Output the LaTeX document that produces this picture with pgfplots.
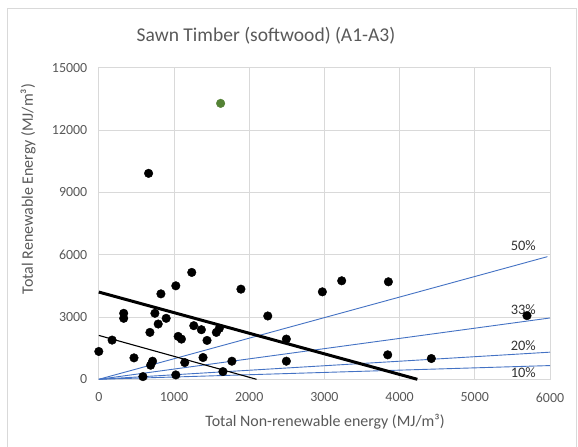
\documentclass[border=0pt]{standalone}
\usepackage{fontspec}
\setmainfont{Carlito}
\usepackage{pgfplots}
\pgfplotsset{compat=1.18}
\definecolor{txt}{HTML}{595959}
\definecolor{gridc}{HTML}{D9D9D9}
\definecolor{bline}{HTML}{4472C4}
\definecolor{gpt}{HTML}{548235}
\begin{document}
\begin{tikzpicture}[x=1bp,y=1bp]
\useasboundingbox (0,0) rectangle (578,447);
\fill[white] (0,0) rectangle (578,447);
\draw[gridc, line width=0.8bp] (7,-5) -- (7,439) -- (576.7,439) -- (576.7,-5);
\begin{axis}[at={(98.8bp,67.7bp)}, anchor=south west, scale only axis,
  width=451.2bp, height=311.6bp,
  xmin=0, xmax=6000, ymin=0, ymax=15000,
  xtick={0,1000,...,6000}, ytick={0,3000,...,15000},
  grid=major, grid style={draw=gridc, line width=0.8bp},
  axis line style={draw=gridc, line width=0.8bp},
  major tick length=0pt,
  scaled ticks=false,
  /pgf/number format/assume math mode=true,
  /pgf/number format/1000 sep={},
  tick label style={font=\fontsize{14}{15}\selectfont, text=txt},
  xticklabel style={yshift=-10bp},
  yticklabel style={xshift=-8bp},
  clip=false]
\addplot[only marks, mark=*, mark size=4.3bp, black] table {
x y
0 1339
177 1887
331 3177
331 2935
468 1032
587 129
680 2258
689 677
715 871
746 3177
790 2661
826 4113
896 2935
1024 4500
1024 210
1055 2065
1099 1935
1143 806
1236 5145
1263 2581
1364 2387
1386 1048
1439 1871
1563 2258
1603 2452
1651 371
1770 871
1890 4339
2247 3048
2494 1935
2494 871
2973 4210
3230 4742
3851 4694
3842 1177
4422 1000
5694 3065
662 9914
};
\addplot[only marks, mark=*, mark size=4.3bp, gpt] coordinates {(1620,13283)};
\addplot[bline, line width=0.9bp] coordinates {(0,0) (5965,5903)};
\addplot[bline, line width=0.9bp] coordinates {(0,0) (6000,2952)};
\addplot[bline, line width=0.9bp] coordinates {(0,0) (6000,1306)};
\addplot[bline, line width=0.9bp] coordinates {(0,0) (6000,661)};
\addplot[black, line width=3bp] coordinates {(0,4200) (4236,0)};
\addplot[black, line width=1.1bp] coordinates {(0,2113) (2097,0)};
\node[font=\fontsize{14.5}{16}\selectfont, text=black!80] at (axis cs:5645,6450) {50\%};
\node[font=\fontsize{14.5}{16}\selectfont, text=black!80] at (axis cs:5645,3353) {33\%};
\node[font=\fontsize{14.5}{16}\selectfont, text=black!80] at (axis cs:5645,1611) {20\%};
\node[font=\fontsize{14.5}{16}\selectfont, text=black!80] at (axis cs:5645,305) {10\%};
\end{axis}
\node[font=\fontsize{19.6}{21}\selectfont, text=txt] at (266,411) {Sawn Timber (softwood) (A1-A3)};
\node[font=\fontsize{16}{18}\selectfont, text=txt, rotate=90] at (28,258) {Total Renewable Energy (MJ/m³)};
\node[font=\fontsize{16}{18}\selectfont, text=txt] at (325,25.3) {Total Non-renewable energy (MJ/m³)};
\end{tikzpicture}
\end{document}
